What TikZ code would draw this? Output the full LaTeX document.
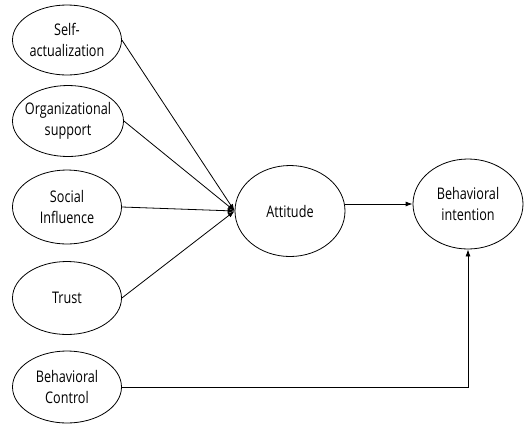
\documentclass[tikz,border=0pt]{standalone}
\usepackage{fontspec}
\setmainfont[FakeStretch=0.79]{Open Sans}
\usetikzlibrary{shapes.geometric,arrows.meta}

\tikzstyle{factor} = [ellipse,draw,line width=0.8pt,inner sep=-12pt,align=center,font=\fontsize{16}{21}\selectfont]
\tikzstyle{path} = [line width=0.8pt,-{Latex[length=7pt,width=5pt]}]

\begin{document}
\begin{tikzpicture}[x=1pt,y=-1pt]
	\useasboundingbox (0,0) rectangle (525,424);
	\node[factor,minimum width=109pt,minimum height=70pt] (sa) at (67,40) {Self-\\actualization};
	\node[factor,minimum width=111pt,minimum height=71pt] (os) at (68,121) {Organizational\\support};
	\node[factor,minimum width=109pt,minimum height=74pt] (si) at (67,207) {Social\\Influence};
	\node[factor,minimum width=109pt,minimum height=73pt] (tr) at (67,298) {Trust};
	\node[factor,minimum width=109pt,minimum height=72pt] (bc) at (67,387) {Behavioral\\Control};
	\node[factor,minimum width=110pt,minimum height=91pt] (att) at (290,211) {Attitude};
	\node[factor,minimum width=110pt,minimum height=90pt] (bi) at (468,204) {Behavioral\\intention};
	\draw[path] (sa.east) -- (att.west);
	\draw[path] (os.east) -- (att.west);
	\draw[path] (si.east) -- (att.west);
	\draw[path] (tr.east) -- (att.west);
	\draw[path] (att.east |- bi.west) -- (bi.west);
	\draw[path] (bc.east) -| (bi.south);
\end{tikzpicture}
\end{document}
